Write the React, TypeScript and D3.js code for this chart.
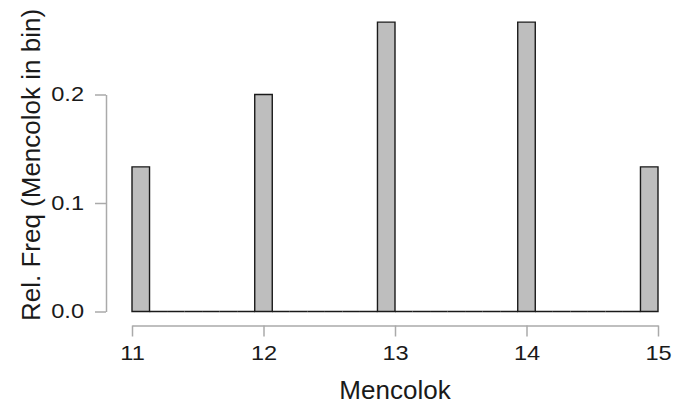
import React, { useEffect, useRef } from 'react';
import * as d3 from 'd3';

const width = 674;
const height = 404;

// histogram of Mencolok: 30 bins between 11 and 15
const binStart = 11;
const binEnd = 15;
const relFreq = [
  0.1333, 0, 0, 0, 0, 0, 0, 0.2, 0, 0,
  0, 0, 0, 0, 0.2667, 0, 0, 0, 0, 0,
  0, 0, 0.2667, 0, 0, 0, 0, 0, 0, 0.1333,
];
const xTicks = [11, 12, 13, 14, 15];
const yTicks = [0, 0.1, 0.2];

const font = '"Liberation Sans", Arial, Helvetica, sans-serif';
const stretch = 1.18; // tick labels in the picture are a bit wide

const x = d3.scaleLinear().domain([binStart, binEnd]).range([132, 658]);
const y = d3.scaleLinear().domain([0, 0.2]).range([311.5, 94.5]);
const binW = (binEnd - binStart) / relFreq.length;

export default function App() {
  const xAxisRef = useRef<SVGGElement>(null);
  const yAxisRef = useRef<SVGGElement>(null);

  useEffect(() => {
    const xAxis = d3
      .axisBottom(x)
      .tickValues(xTicks)
      .tickFormat(d3.format('d'))
      .tickSize(11)
      .tickSizeOuter(0);
    const yAxis = d3
      .axisLeft(y)
      .tickValues(yTicks)
      .tickFormat(d3.format('.1f'))
      .tickSize(11)
      .tickSizeOuter(0);

    const gx = d3.select(xAxisRef.current).call(xAxis as any);
    const gy = d3.select(yAxisRef.current).call(yAxis as any);

    [gx, gy].forEach(g => {
      g.selectAll('path.domain').attr('stroke', '#aaaaaa').attr('stroke-width', 1.5);
      g.selectAll('.tick line').attr('stroke', '#aaaaaa').attr('stroke-width', 1.5);
      g.selectAll('.tick text')
        .attr('fill', '#1a1a1a')
        .attr('transform', `scale(${stretch},1)`)
        .style('font-family', font)
        .style('font-size', '20px');
    });
    gx.selectAll('.tick text').attr('dy', null).attr('y', 35);
    gy.selectAll('.tick text').attr('x', -22 / stretch);
  }, []);

  return (
    <svg
      width={width}
      height={height}
      style={{ position: 'absolute', left: 0, top: 0, background: '#fff' }}
    >
      {relFreq.map((v, i) => {
        const x0 = x(binStart + i * binW);
        const x1 = x(binStart + (i + 1) * binW);
        const y0 = y(0);
        const y1 = y(v);
        return (
          <path
            key={i}
            d={`M${x0},${y0}V${y1}H${x1}V${y0}Z`}
            fill="#bebebe"
            stroke="#1a1a1a"
            strokeWidth={1.4}
          />
        );
      })}
      <g ref={xAxisRef} transform="translate(0, 325.5)" />
      <g ref={yAxisRef} transform="translate(106, 0)" />
      <text
        x={395}
        y={399}
        textAnchor="middle"
        fill="#1a1a1a"
        style={{ fontFamily: font, fontSize: '26px' }}
      >
        Mencolok
      </text>
      <text
        transform="translate(39.5, 165) rotate(-90)"
        textAnchor="middle"
        fill="#1a1a1a"
        style={{ fontFamily: font, fontSize: '26px' }}
      >
        Rel. Freq (Mencolok in bin)
      </text>
    </svg>
  );
}
